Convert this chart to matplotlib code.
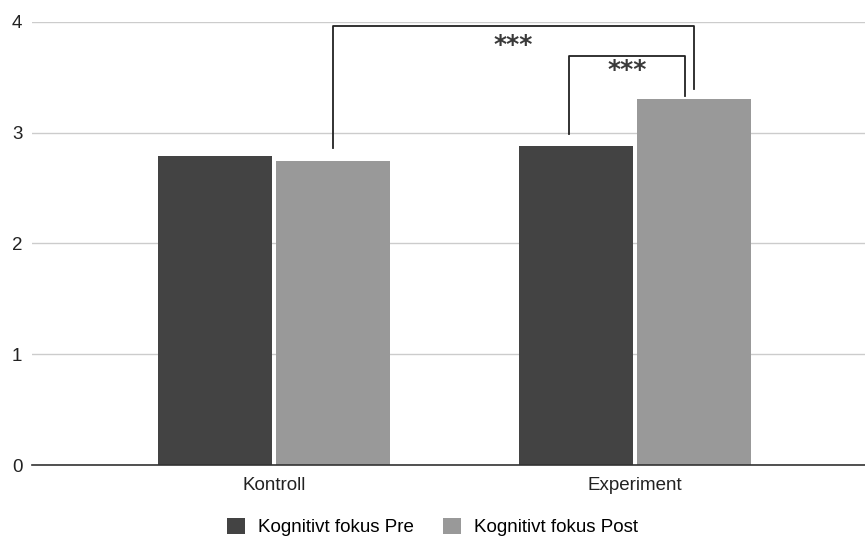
import matplotlib
matplotlib.use("Agg")
import matplotlib.pyplot as plt
import numpy as np

categories = ["Kontroll", "Experiment"]
pre_values = [2.79, 2.88]
post_values = [2.74, 3.30]
series_names = ["Kognitivt fokus Pre", "Kognitivt fokus Post"]
yticks = [0, 1, 2, 3, 4]
sig_label = "***"

plt.rcParams['font.family'] = ['Liberation Sans', 'DejaVu Sans']

fig = plt.figure(figsize=(8.65, 5.37), dpi=100)
ax = fig.add_axes([0.037, 0.134, 0.963, 0.8256])

x = np.arange(len(categories))
w = 0.315
off = 0.163
ax.bar(x - off, pre_values, width=w, color="#434343", label=series_names[0], zorder=3)
ax.bar(x + off, post_values, width=w, color="#999999", label=series_names[1], zorder=3)

ax.set_xlim(-0.67, 1.637)
ax.set_ylim(0, 4)
ax.set_yticks(yticks)
ax.set_yticklabels([str(t) for t in yticks])
ax.grid(axis='y', color="#cccccc", linewidth=1, zorder=0)
for s in ["top", "right", "left"]:
    ax.spines[s].set_visible(False)
ax.spines["bottom"].set_color("#333333")
ax.spines["bottom"].set_linewidth(1.2)
ax.spines["bottom"].set_zorder(4)
ax.tick_params(axis='both', length=0, labelsize=13.5, colors="#222222")
ax.tick_params(axis='y', pad=7)
ax.tick_params(axis='x', pad=8.5)
ax.set_xticks(x)
ax.set_xticklabels(categories)

# significance brackets
def bracket(x1, x2, y_top, y1, y2, ys):
    ax.plot([x1, x1, x2, x2], [y1, y_top, y_top, y2], color="#222222", lw=1.3, zorder=5, clip_on=False)
    ax.text((x1 + x2) / 2, ys, sig_label, ha="center", va="baseline", fontsize=18,
            family="DejaVu Sans", fontweight="bold", color="#3a3a3a")

bracket(x[0] + off, x[1] + off, 3.965, 2.86, 3.39, 3.73)
bracket(x[1] - off - 0.02, x[1] + off - 0.025, 3.69, 2.99, 3.33, 3.50)

leg = fig.legend(loc="lower center", bbox_to_anchor=(0.5, -0.03), ncol=2, frameon=False,
                 fontsize=13.5, handlelength=1.0, handleheight=0.95, columnspacing=1.5, handletextpad=0.7)
fig.savefig("out.png", dpi=100)
